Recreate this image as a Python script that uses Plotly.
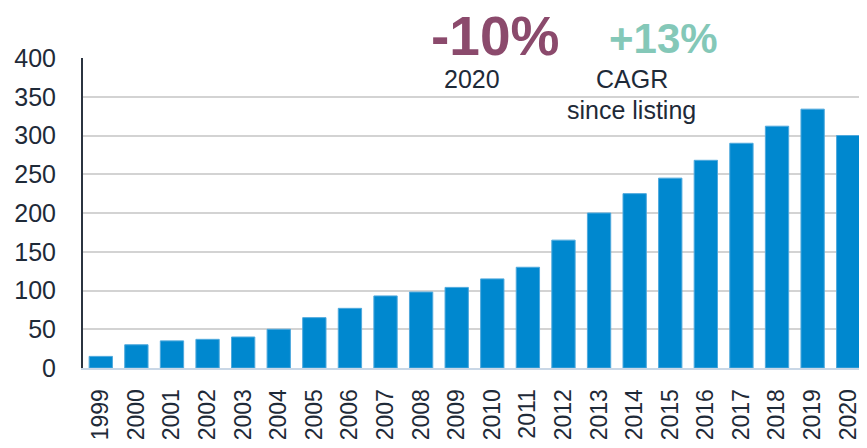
import plotly.graph_objects as go

years = [str(y) for y in range(1999, 2021)]
values = [15, 30, 35, 37, 40, 50, 65, 77, 93, 98, 104, 115, 130, 165, 200, 225, 245, 268, 290, 312, 334, 300]
y_ticks = [0, 50, 100, 150, 200, 250, 300, 350, 400]

TXT = "#1e2a38"
FONT = "Arial, Liberation Sans, sans-serif"

# page has an 8px body margin; figure is sized to fill the rest of the window
PX0, PY0 = 8, 8
PL, PR, PT, PB = 83, 866, 58, 368  # plot area in page pixels

fig = go.Figure()
fig.add_trace(go.Bar(
    x=years, y=values,
    marker=dict(color="#0088cf", line=dict(color="#4fa9dd", width=1)),
    width=0.655,
))

fig.update_layout(
    width=867 - PX0, height=448 - PY0,
    margin=dict(l=PL - PX0, r=867 - PR, t=PT - PY0, b=448 - PB),
    paper_bgcolor="white", plot_bgcolor="white",
    showlegend=False,
    font=dict(family=FONT, color=TXT),
    bargap=0.345,
)
fig.update_yaxes(
    range=[0, 400], tickvals=y_ticks,
    tickfont=dict(size=25, color=TXT, family=FONT),
    showgrid=True, gridcolor="#d3d3d3", gridwidth=1.5,
    zeroline=False,
    showline=True, linecolor="#2b3440", linewidth=2,
    ticks="", ticklabelstandoff=20,
)
fig.update_xaxes(
    tickangle=-90,
    tickfont=dict(size=23, color=TXT, family=FONT),
    showline=True, linecolor="#c9d7e6", linewidth=2,
    ticks="", ticklabelstandoff=10,
    range=[-0.5, 21.5],
)

annots = [
    dict(text="<b>-10%</b>", x=495, y=36, size=55, color="#8b4a6c"),
    dict(text="<b>+13%</b>", x=663, y=38, size=42, color="#84c8b8"),
    dict(text="2020", x=472, y=79, size=25, color=TXT),
    dict(text="CAGR", x=632, y=79, size=25, color=TXT),
    dict(text="since listing", x=631, y=110, size=25, color=TXT),
]
for a in annots:
    fig.add_annotation(
        text=a["text"], xref="paper", yref="paper",
        x=(a["x"] - PL) / (PR - PL), y=1 - (a["y"] - PT) / (PB - PT),
        xanchor="center", yanchor="middle", showarrow=False,
        font=dict(size=a["size"], color=a["color"], family=FONT),
    )

fig.write_html("out.html")
